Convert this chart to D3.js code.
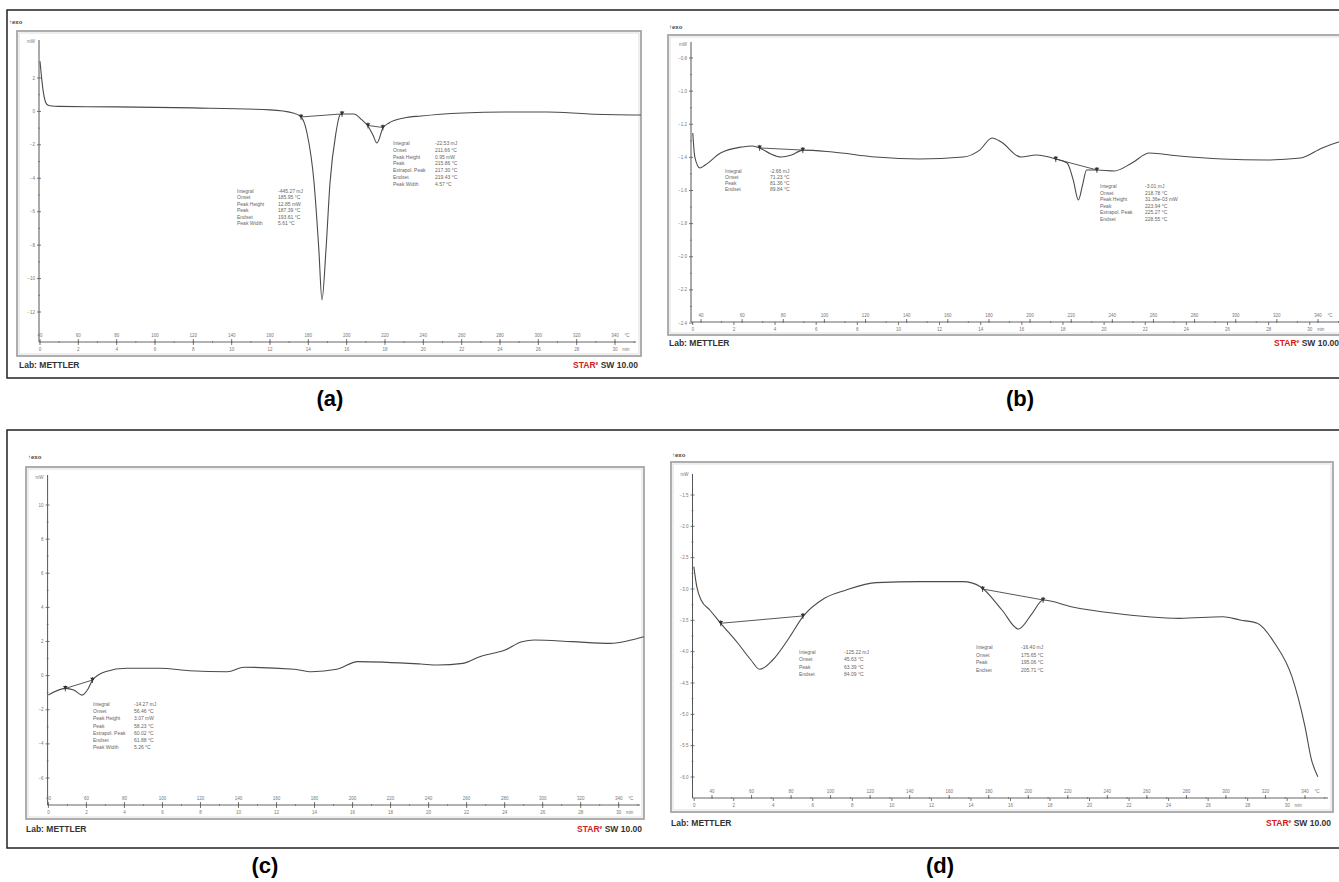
<!DOCTYPE html>
<html>
<head>
<meta charset="utf-8">
<script src="https://cdn.jsdelivr.net/npm/d3@7"></script>
<style>
body { margin: 0; background: #fff; }
svg { display: block; font-family: "Liberation Sans", Arial, sans-serif; }
</style>
</head>
<body>
<script>
// shared axis labels (temperature on top, time below)
var tempTicks = d3.range(40, 341, 20);
var minTicks = d3.range(0, 31, 2);

// (a) heat flow in mW against temperature in °C
var aTemp = [40, 41.7, 43.5, 45.2, 50, 80, 120, 160, 172, 176.2, 179.3, 183, 185.5, 187.1, 189.2, 191.3, 194.4, 196.5, 197.6, 203.8, 208, 211.1, 213.7, 215.8, 218.9, 222.1, 229.9, 238.8, 260.7, 282.6, 304.5, 326.4, 353.5];
var aHeat = [3.0, 1.18, 0.43, 0.34, 0.30, 0.27, 0.21, 0.09, -0.09, -0.33, -1.29, -4.28, -8.29, -11.28, -8.29, -4.28, -1.29, -0.21, -0.15, -0.15, -0.51, -0.87, -1.41, -1.89, -0.99, -0.69, -0.39, -0.27, -0.09, -0.03, -0.03, -0.15, -0.21];
var aYTicks = [2, 0, -2, -4, -6, -8, -10, -12];
var aBaseTemp = [[176.2, 197.6], [211.1, 218.9]];
var aBaseHeat = [[-0.33, -0.15], [-0.84, -0.96]];

// (b)
var bTemp = [36, 37, 39.5, 42, 49.5, 60, 65, 68.5, 74, 79, 84, 89.5, 104, 125, 146, 167.5, 175.5, 181.5, 186, 195.5, 203, 212.5, 218, 221, 223.5, 225.5, 227.5, 232.5, 241, 249.5, 258, 272.5, 293.5, 314.5, 331.5, 342, 350, 359.5];
var bHeat = [-1.253, -1.398, -1.464, -1.446, -1.374, -1.337, -1.331, -1.343, -1.380, -1.398, -1.386, -1.356, -1.368, -1.398, -1.410, -1.398, -1.356, -1.283, -1.307, -1.398, -1.386, -1.410, -1.434, -1.537, -1.657, -1.567, -1.476, -1.476, -1.482, -1.434, -1.374, -1.392, -1.410, -1.416, -1.404, -1.343, -1.307, -1.277];
var bYTicks = [-0.8, -1.0, -1.2, -1.4, -1.6, -1.8, -2.0, -2.2, -2.4];
var bBaseTemp = [[68.5, 89.5], [212.5, 232.5]];
var bBaseHeat = [[-1.343, -1.356], [-1.410, -1.476]];

// (c)
var cTemp = [40, 48.9, 53.3, 57.7, 61, 63.2, 69.9, 81, 98.7, 114.2, 134.1, 142.9, 169.5, 178.4, 191.7, 202.7, 235.9, 244.8, 258.1, 266.9, 280.2, 289.1, 295.7, 315.6, 335.5, 346.6, 353.3];
var cHeat = [-1.14, -0.75, -0.84, -1.14, -0.75, -0.26, 0.23, 0.43, 0.43, 0.29, 0.23, 0.49, 0.37, 0.23, 0.37, 0.82, 0.68, 0.62, 0.72, 1.11, 1.50, 1.99, 2.09, 1.99, 1.89, 2.09, 2.28];
var cYTicks = [10, 8, 6, 4, 2, 0, -2, -4, -6];
var cBaseTemp = [[48.9, 63.2]];
var cBaseHeat = [[-0.75, -0.26]];

// (d)
var dTemp = [30.8, 32.3, 34.5, 38.9, 44.4, 53.1, 59.7, 64.1, 70.7, 79.4, 86, 96.9, 107.9, 123.2, 145.1, 167, 175.8, 186.7, 195, 202, 207.5, 221.7, 243.6, 276.5, 298.4, 307.1, 315.9, 324.7, 333.4, 340, 343.3, 346.5];
var dHeat = [-2.644, -2.963, -3.175, -3.335, -3.547, -3.866, -4.133, -4.281, -4.133, -3.761, -3.442, -3.149, -3.016, -2.899, -2.883, -2.883, -2.963, -3.335, -3.638, -3.388, -3.175, -3.282, -3.388, -3.468, -3.442, -3.495, -3.547, -3.866, -4.399, -5.197, -5.728, -5.995];
var dYTicks = [-1.5, -2.0, -2.5, -3.0, -3.5, -4.0, -4.5, -5.0, -5.5, -6.0];
var dBaseTemp = [[44.4, 86], [176.9, 207.5]];
var dBaseHeat = [[-3.547, -3.43], [-3.0, -3.175]];

// evaluation boxes
var shortNames = ["Integral", "Onset", "Peak", "Endset"];
var longNames = ["Integral", "Onset", "Peak Height", "Peak", "Extrapol. Peak", "Endset", "Peak Width"];
var aNote1 = ["-445.27 mJ", "185.95 °C", "12.85 mW", "187.39 °C", "193.61 °C", "5.61 °C"];
var aNote2 = ["-22.53 mJ", "211.66 °C", "0.95 mW", "215.86 °C", "217.30 °C", "219.43 °C", "4.57 °C"];
var bNote1 = ["-2.66 mJ", "71.23 °C", "81.36 °C", "89.84 °C"];
var bNote2 = ["-3.01 mJ", "218.78 °C", "31.36e-03 mW", "223.94 °C", "225.27 °C", "228.55 °C"];
var cNote1 = ["-14.27 mJ", "56.46 °C", "3.07 mW", "58.23 °C", "60.02 °C", "61.88 °C", "5.26 °C"];
var dNote1 = ["-125.22 mJ", "45.63 °C", "63.39 °C", "84.09 °C"];
var dNote2 = ["-16.40 mJ", "175.65 °C", "195.06 °C", "205.71 °C"];

var svg = d3.select("body").append("svg")
    .attr("width", 1339)
    .attr("height", 882);

// outer boxes around each row of the figure
[[10, 368], [430, 418]].forEach(function(r) {
    svg.append("rect")
        .attr("x", 7).attr("y", r[0])
        .attr("width", 1345).attr("height", r[1])
        .attr("fill", "none").attr("stroke", "#222").attr("stroke-width", 1.5);
});

var figLabels = [["(a)", 330, 406], ["(b)", 1020, 406], ["(c)", 265, 873], ["(d)", 940, 873]];
figLabels.forEach(function(l) {
    svg.append("text").attr("x", l[1]).attr("y", l[2])
        .attr("text-anchor", "middle")
        .style("font-size", "22px").style("font-weight", "bold")
        .text(l[0]);
});

var panels = [
    { id: "a", frame: [17, 31, 641, 356], ax: 39, ayTop: 40, ay: 342, axRight: 636,
      t: [40, 615], minStart: 40, yDom: [2, -12], yRng: [78, 312], unitY: 43,
      temp: aTemp, heat: aHeat, yTicks: aYTicks, baseT: aBaseTemp, baseH: aBaseHeat,
      notes: [[longNames.filter(function(n) { return n != "Extrapol. Peak"; }), aNote1, 237, 278, 193, 6.4],
              [longNames, aNote2, 393, 435, 145, 6.8]],
      exo: [9, 24], lab: [19, 368], star: 638 },
    { id: "b", frame: [668, 35, 1360, 335], ax: 691, ayTop: 42, ay: 322, axRight: 1345,
      t: [701, 1318], minStart: 36, yDom: [-0.8, -2.4], yRng: [58, 323], unitY: 46,
      temp: bTemp, heat: bHeat, yTicks: bYTicks, baseT: bBaseTemp, baseH: bBaseHeat,
      notes: [[shortNames, bNote1, 725, 770, 173, 6],
              [longNames.slice(0, 6), bNote2, 1100, 1145, 188, 6.6]],
      exo: [669, 29], lab: [669, 346], star: 1339 },
    { id: "c", frame: [26, 467, 644, 819], ax: 47.6, ayTop: 475, ay: 805, axRight: 640,
      t: [48.4, 618.7], minStart: 40, yDom: [10, -6], yRng: [505, 778], unitY: 479,
      temp: cTemp, heat: cHeat, yTicks: cYTicks, baseT: cBaseTemp, baseH: cBaseHeat,
      notes: [[longNames, cNote1, 93, 134, 706, 7.2]],
      exo: [28, 459], lab: [26, 832], star: 642 },
    { id: "d", frame: [671, 462, 1333, 812], ax: 692.5, ayTop: 474, ay: 798, axRight: 1328,
      t: [712, 1305], minStart: 31, yDom: [-1.5, -6.0], yRng: [495, 777], unitY: 476,
      temp: dTemp, heat: dHeat, yTicks: dYTicks, baseT: dBaseTemp, baseH: dBaseHeat,
      notes: [[shortNames, dNote1, 799, 844, 654, 7.3],
              [shortNames, dNote2, 976, 1021, 649, 7.6]],
      exo: [672, 457], lab: [671, 826], star: 1331 }
];

panels.forEach(drawPanel);

function drawPanel(p) {
    var g = svg.append("g").attr("class", "panel-" + p.id);
    var f = p.frame;

    // gray double frame like the STARe printout
    g.append("rect").attr("x", f[0]).attr("y", f[1])
        .attr("width", f[2] - f[0]).attr("height", f[3] - f[1])
        .attr("fill", "none").attr("stroke", "#9a9a9a").attr("stroke-width", 1.6);
    g.append("rect").attr("x", f[0] + 2).attr("y", f[1] + 2)
        .attr("width", f[2] - f[0] - 4).attr("height", f[3] - f[1] - 4)
        .attr("fill", "none").attr("stroke", "#d6d6d6").attr("stroke-width", 0.8);

    g.append("text").attr("x", p.exo[0]).attr("y", p.exo[1])
        .style("font-size", "6px").style("font-weight", "bold").attr("fill", "#444")
        .text("\u2191exo");

    var x = d3.scaleLinear().domain([40, 340]).range(p.t);
    var y = d3.scaleLinear().domain(p.yDom).range(p.yRng);
    var xm = d3.scaleLinear()
        .domain([0, 30])
        .range([x(p.minStart), x(p.minStart + 300)]);

    // y axis
    g.append("line").attr("x1", p.ax).attr("x2", p.ax)
        .attr("y1", p.ayTop).attr("y2", p.ay)
        .attr("stroke", "#555").attr("stroke-width", 1);
    var step = p.yTicks[0] - p.yTicks[1];
    var minorY = p.yTicks.slice(0, -1).map(function(v) { return v - step / 2; });
    g.selectAll(".ytick").data(p.yTicks).enter().append("line")
        .attr("x1", p.ax - 2).attr("x2", p.ax + 2)
        .attr("y1", function(d) { return y(d); }).attr("y2", function(d) { return y(d); })
        .attr("stroke", "#555").attr("stroke-width", 0.8);
    g.selectAll(".yminor").data(minorY).enter().append("line")
        .attr("x1", p.ax - 1).attr("x2", p.ax + 1)
        .attr("y1", function(d) { return y(d); }).attr("y2", function(d) { return y(d); })
        .attr("stroke", "#666").attr("stroke-width", 0.7);
    g.selectAll(".ylab").data(p.yTicks).enter().append("text")
        .attr("x", p.ax - 4).attr("y", function(d) { return y(d) + 1.6; })
        .attr("text-anchor", "end").attr("fill", "#777").style("font-size", "4.5px")
        .text(function(d) { return d3.format(step < 1 ? ".1f" : "d")(d); });
    g.append("text").attr("x", p.ax - 4).attr("y", p.unitY)
        .attr("text-anchor", "end").attr("fill", "#777").style("font-size", "4.5px")
        .text("mW");

    // x axis with temperature above and minutes below
    g.append("line").attr("x1", p.ax).attr("x2", p.axRight)
        .attr("y1", p.ay).attr("y2", p.ay)
        .attr("stroke", "#555").attr("stroke-width", 0.9);
    g.selectAll(".xminor").data(d3.range(30, 351, 10)).enter().append("line")
        .filter(function(d) { return x(d) > p.ax && x(d) < p.axRight; })
        .attr("x1", function(d) { return x(d); }).attr("x2", function(d) { return x(d); })
        .attr("y1", p.ay - 1).attr("y2", p.ay + 1)
        .attr("stroke", "#666").attr("stroke-width", 0.7);
    g.selectAll(".xtick").data(tempTicks).enter().append("line")
        .attr("x1", function(d) { return x(d); }).attr("x2", function(d) { return x(d); })
        .attr("y1", p.ay - 3).attr("y2", p.ay)
        .attr("stroke", "#555").attr("stroke-width", 0.8);
    g.selectAll(".mtick").data(minTicks).enter().append("line")
        .attr("x1", function(d) { return xm(d); }).attr("x2", function(d) { return xm(d); })
        .attr("y1", p.ay).attr("y2", p.ay + 3)
        .attr("stroke", "#555").attr("stroke-width", 0.8);
    g.selectAll(".xlab").data(tempTicks).enter().append("text")
        .attr("x", function(d) { return x(d); }).attr("y", p.ay - 5)
        .attr("text-anchor", "middle").attr("fill", "#777").style("font-size", "4.5px")
        .text(function(d) { return d; });
    g.selectAll(".mlab").data(minTicks).enter().append("text")
        .attr("x", function(d) { return xm(d); }).attr("y", p.ay + 9)
        .attr("text-anchor", "middle").attr("fill", "#777").style("font-size", "4.5px")
        .text(function(d) { return d; });
    g.append("text").attr("x", x(340) + 12).attr("y", p.ay - 5)
        .attr("text-anchor", "middle").attr("fill", "#777").style("font-size", "4.5px").text("°C");
    g.append("text").attr("x", xm(30) + 11).attr("y", p.ay + 9)
        .attr("text-anchor", "middle").attr("fill", "#777").style("font-size", "4.5px").text("min");

    // the measured curve
    var clipId = "clip-" + p.id;
    g.append("clipPath").attr("id", clipId).append("rect")
        .attr("x", p.ax).attr("y", f[1] + 2)
        .attr("width", Math.min(f[2], 1339) - p.ax).attr("height", f[3] - f[1] - 4);
    var pts = p.temp.map(function(t, i) { return [t, p.heat[i]]; });
    var line = d3.line()
        .x(function(d) { return x(d[0]); })
        .y(function(d) { return y(d[1]); })
        .curve(d3.curveMonotoneX);
    g.append("path").datum(pts)
        .attr("clip-path", "url(#" + clipId + ")")
        .attr("d", line)
        .attr("fill", "none").attr("stroke", "#4a4a4a").attr("stroke-width", 1.1);

    // integration baselines and their limit marks
    p.baseT.forEach(function(bt, i) {
        var bh = p.baseH[i];
        g.append("line")
            .attr("x1", x(bt[0])).attr("y1", y(bh[0]))
            .attr("x2", x(bt[1])).attr("y2", y(bh[1]))
            .attr("stroke", "#444").attr("stroke-width", 0.9);
        bt.forEach(function(t, j) {
            g.append("path")
                .attr("transform", "translate(" + x(t) + "," + (y(bh[j]) - 1) + ") rotate(180)")
                .attr("d", d3.symbol().type(d3.symbolTriangle).size(9))
                .attr("fill", "#333");
            g.append("line")
                .attr("x1", x(t)).attr("x2", x(t))
                .attr("y1", y(bh[j]) - 3).attr("y2", y(bh[j]) + 3)
                .attr("stroke", "#333").attr("stroke-width", 0.8);
        });
    });

    // evaluation text blocks
    p.notes.forEach(function(n) {
        var names = n[0], vals = n[1];
        names.forEach(function(name, i) {
            g.append("text").attr("x", n[2]).attr("y", n[4] + i * n[5])
                .attr("fill", "#666").style("font-size", "5px").text(name);
            g.append("text").attr("x", n[3]).attr("y", n[4] + i * n[5])
                .attr("fill", "#666").style("font-size", "5px").text(vals[i]);
        });
    });

    g.append("text").attr("x", p.lab[0]).attr("y", p.lab[1])
        .style("font-size", "8.5px").style("font-weight", "bold").attr("fill", "#333")
        .text("Lab: METTLER");
    var star = g.append("text").attr("x", p.star).attr("y", p.lab[1])
        .attr("text-anchor", "end")
        .style("font-size", "8.5px").style("font-weight", "bold");
    star.append("tspan").attr("fill", "#d42020").text("STAR");
    star.append("tspan").attr("fill", "#d42020").attr("dy", -3).style("font-size", "5px").text("e");
    star.append("tspan").attr("fill", "#333").attr("dy", 3).text(" SW 10.00");
}
</script>
</body>
</html>
